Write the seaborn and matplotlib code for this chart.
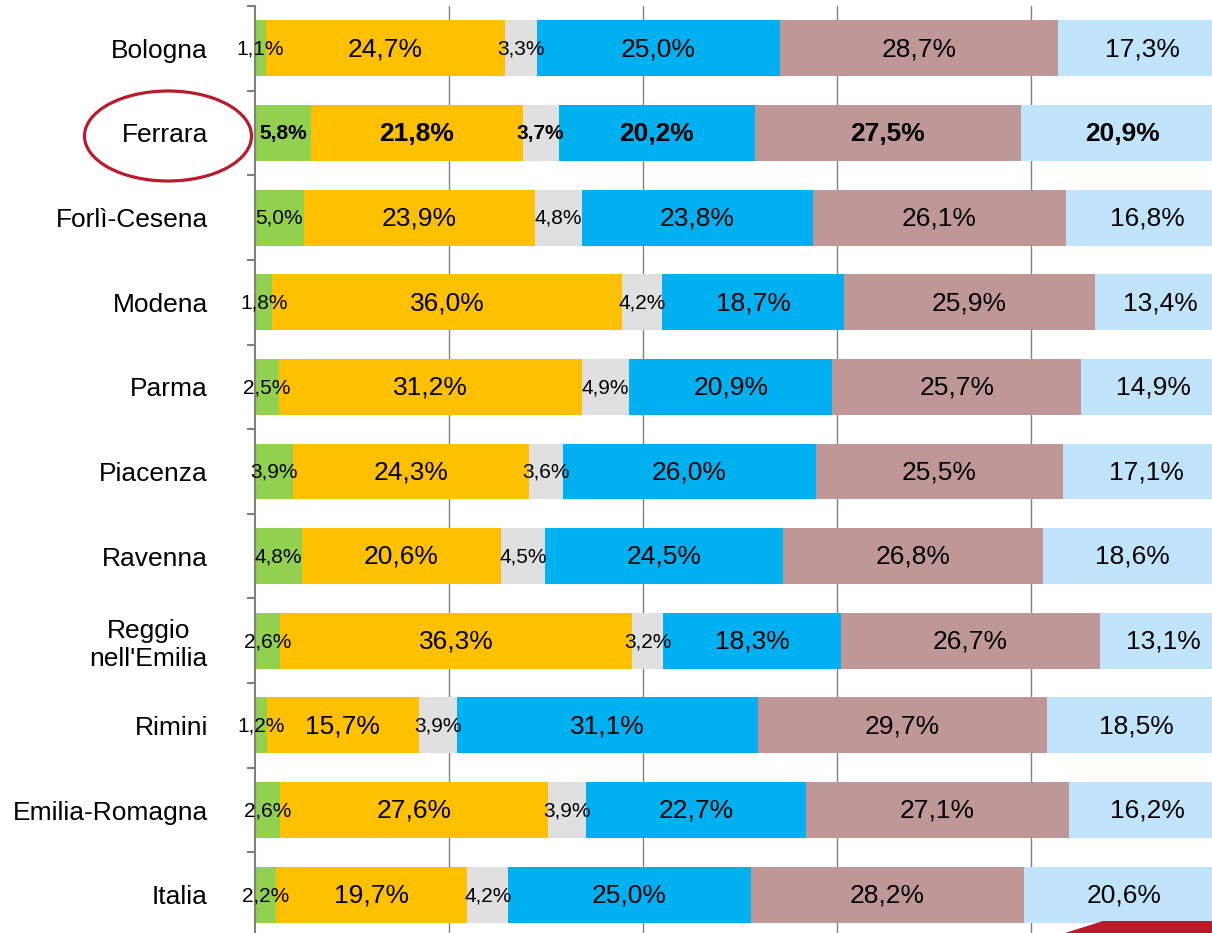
import numpy as np
import pandas as pd
import matplotlib
matplotlib.use("Agg")
import matplotlib.pyplot as plt
from matplotlib.patches import Ellipse, Polygon
import seaborn as sns

# dati (quote percentuali per provincia)
province = ["Bologna", "Ferrara", "Forlì-Cesena", "Modena", "Parma", "Piacenza",
            "Ravenna", "Reggio\nnell'Emilia", "Rimini", "Emilia-Romagna", "Italia"]
s1 = [1.1, 5.8, 5.0, 1.8, 2.5, 3.9, 4.8, 2.6, 1.2, 2.6, 2.2]
s2 = [24.7, 21.8, 23.9, 36.0, 31.2, 24.3, 20.6, 36.3, 15.7, 27.6, 19.7]
s3 = [3.3, 3.7, 4.8, 4.2, 4.9, 3.6, 4.5, 3.2, 3.9, 3.9, 4.2]
s4 = [25.0, 20.2, 23.8, 18.7, 20.9, 26.0, 24.5, 18.3, 31.1, 22.7, 25.0]
s5 = [28.7, 27.5, 26.1, 25.9, 25.7, 25.5, 26.8, 26.7, 29.7, 27.1, 28.2]
s6 = [17.3, 20.9, 16.8, 13.4, 14.9, 17.1, 18.6, 13.1, 18.5, 16.2, 20.6]

serie = [s1, s2, s3, s4, s5, s6]
colori = ["#92D050", "#FFC000", "#E0E0E0", "#00B0F0", "#BF9797", "#C0E4FC"]
piccole = [True, False, True, False, False, False]  # etichette piccole
evidenza = "Ferrara"

sns.set_style("white")
plt.rcParams["font.family"] = ["Liberation Sans", "DejaVu Sans"]

W, H = 1212, 933
fig = plt.figure(figsize=(W / 100, H / 100), dpi=100)
ax = fig.add_axes([255 / W, (H - 937) / H, 970 / W, 931 / H])

vals = np.array(serie)
cum = np.cumsum(vals, axis=0)

# barre impilate: si disegnano i totali cumulati dal più lungo al più corto
for k in range(len(serie) - 1, -1, -1):
    df = pd.DataFrame({"provincia": province, "valore": cum[k]})
    sns.barplot(data=df, x="valore", y="provincia", orient="h", color=colori[k],
                width=0.66, saturation=1, edgecolor="none", linewidth=0, ax=ax, zorder=2)

# etichette dei valori
for k in range(len(serie)):
    start = cum[k] - vals[k]
    for i, p in enumerate(province):
        xc = start[i] + vals[k][i] / 2
        txt = f"{vals[k][i]:.1f}%".replace(".", ",")
        ax.text(xc, i + 0.01, txt, ha="center", va="center",
                fontsize=15 if piccole[k] else 19,
                fontweight="bold" if p == evidenza else "normal",
                color="black", zorder=5)

ax.set_xlim(0, 100)
ax.set_ylim(len(province) - 0.5, -0.5)
ax.set_xlabel("")
ax.set_ylabel("")
ax.set_xticks([20, 40, 60, 80])
ax.tick_params(axis="x", length=0, labelbottom=False)
ax.xaxis.grid(True, color="#808080", linewidth=1.0, zorder=0)
ax.yaxis.grid(False)
ax.set_axisbelow(True)

ax.set_yticks(range(len(province)))
ax.set_yticklabels(province, fontsize=19, color="black", ha="right", multialignment="center")
ax.set_yticks(np.arange(-0.5, len(province), 1), minor=True)
ax.tick_params(axis="y", which="major", left=False, length=0, pad=34)
ax.tick_params(axis="y", which="minor", left=True, length=6, width=1.5,
               color="#808080", direction="out")

for s in ["top", "right", "bottom"]:
    ax.spines[s].set_visible(False)
ax.spines["left"].set_color("#808080")
ax.spines["left"].set_linewidth(1.5)

# ellisse rossa attorno a Ferrara
fig.add_artist(Ellipse((168 / W, 1 - 136 / H), 167 / W, 90 / H, transform=fig.transFigure,
                       fill=False, edgecolor="#B81C2C", linewidth=2.3))

# decorazione rossa in basso a destra
fig.add_artist(Polygon([(1065 / W, 0), (1103 / W, 1 - 921 / H), (1, 1 - 921 / H), (1, 0)],
                       closed=True, transform=fig.transFigure, facecolor="#B81C2C",
                       edgecolor="none"))

fig.savefig("out.png", dpi=100)
